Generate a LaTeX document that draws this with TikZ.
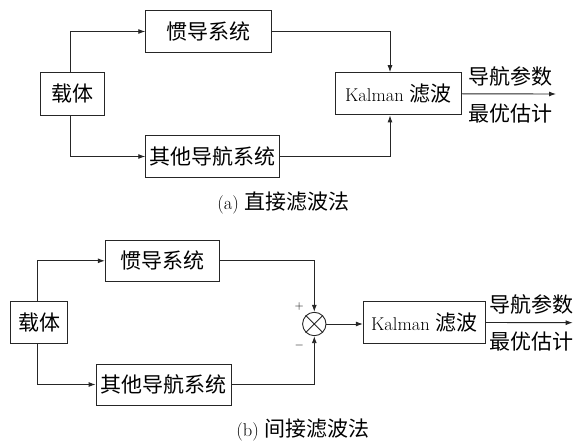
\documentclass[tikz,border=0pt]{standalone}
\usepackage{fontspec}
\newfontfamily\cjk[Scale=1.135]{Noto Sans CJK SC}
\usetikzlibrary{arrows.meta}
\begin{document}
\begin{tikzpicture}[x=1pt,y=-1pt,
  font=\fontsize{18.5}{22}\selectfont,
  blk/.style={draw=black!85, line width=0.9pt, inner sep=0pt, align=center},
  conn/.style={draw=black!85, line width=0.9pt, -{Latex[length=7pt,width=5pt]}},
  lbl/.style={inner sep=0pt},
  sgn/.style={inner sep=0pt, font=\fontsize{13}{15}\selectfont}]
\useasboundingbox (0,0) rectangle (576,441);
% ---------- (a) ----------
\node[blk, minimum width=126pt, minimum height=41.6pt] (ins_a) at (208.7,31.5) {\cjk 惯导系统};
\node[blk, minimum width=64pt, minimum height=42.6pt] (body_a) at (72,94) {\cjk 载体};
\node[blk, minimum width=133.6pt, minimum height=41.6pt] (oth_a) at (212.5,156.5) {\cjk 其他导航系统};
\node[blk, minimum width=126.7pt, minimum height=42.3pt] (kal_a) at (398.3,93.8) {Kalman {\cjk 滤波}};
\coordinate (out_a) at (556,94);
\draw[conn] ([xshift=-2pt]body_a.north) |- (ins_a.west);
\draw[conn] ([xshift=-2pt]body_a.south) |- (oth_a.west);
\draw[conn] (ins_a.east) -| ([xshift=-8.3pt]kal_a.north);
\draw[conn] (oth_a.east) -| ([xshift=-8.3pt]kal_a.south);
\draw[conn] (kal_a.east) -- (out_a);
\node[lbl] (pa1) at (510.3,76) {\cjk 导航参数};
\node[lbl] (pa2) at (510.3,113.3) {\cjk 最优估计};
\node[lbl] (cap_a) at (283.5,203) {(a) {\cjk 直接滤波法}};
% ---------- (b) ----------
\node[blk, minimum width=114pt, minimum height=41.7pt] (ins_b) at (162.3,260.8) {\cjk 惯导系统};
\node[blk, minimum width=57pt, minimum height=41.7pt] (body_b) at (39.2,322.5) {\cjk 载体};
\node[blk, minimum width=135pt, minimum height=41pt] (oth_b) at (163.5,384.5) {\cjk 其他导航系统};
\node[draw=black!85, line width=0.9pt, circle, minimum size=23.4pt, inner sep=0pt] (sum) at (314.3,324) {};
\draw[black!85, line width=0.9pt] (sum.north east) -- (sum.south west) (sum.north west) -- (sum.south east);
\node[blk, minimum width=122pt, minimum height=41.7pt] (kal_b) at (424.3,322.5) {Kalman {\cjk 滤波}};
\coordinate (out_b) at (572.7,322.7);
\draw[conn] ([xshift=-2pt]body_b.north) |- (ins_b.west);
\draw[conn] ([xshift=-2pt]body_b.south) |- (oth_b.west);
\draw[conn] (ins_b.east) -| (sum.north);
\draw[conn] (oth_b.east) -| (sum.south);
\draw[conn] (sum.east) -- (sum.east -| kal_b.west);
\draw[conn] (kal_b.east) -- (out_b);
\node[sgn] (plus) at (299.3,306) {$+$};
\node[sgn] (minus) at (299.3,345) {$-$};
\node[lbl] (pb1) at (531,304) {\cjk 导航参数};
\node[lbl] (pb2) at (531,341.7) {\cjk 最优估计};
\node[lbl] (cap_b) at (303,430) {(b) {\cjk 间接滤波法}};
\end{tikzpicture}
\end{document}
